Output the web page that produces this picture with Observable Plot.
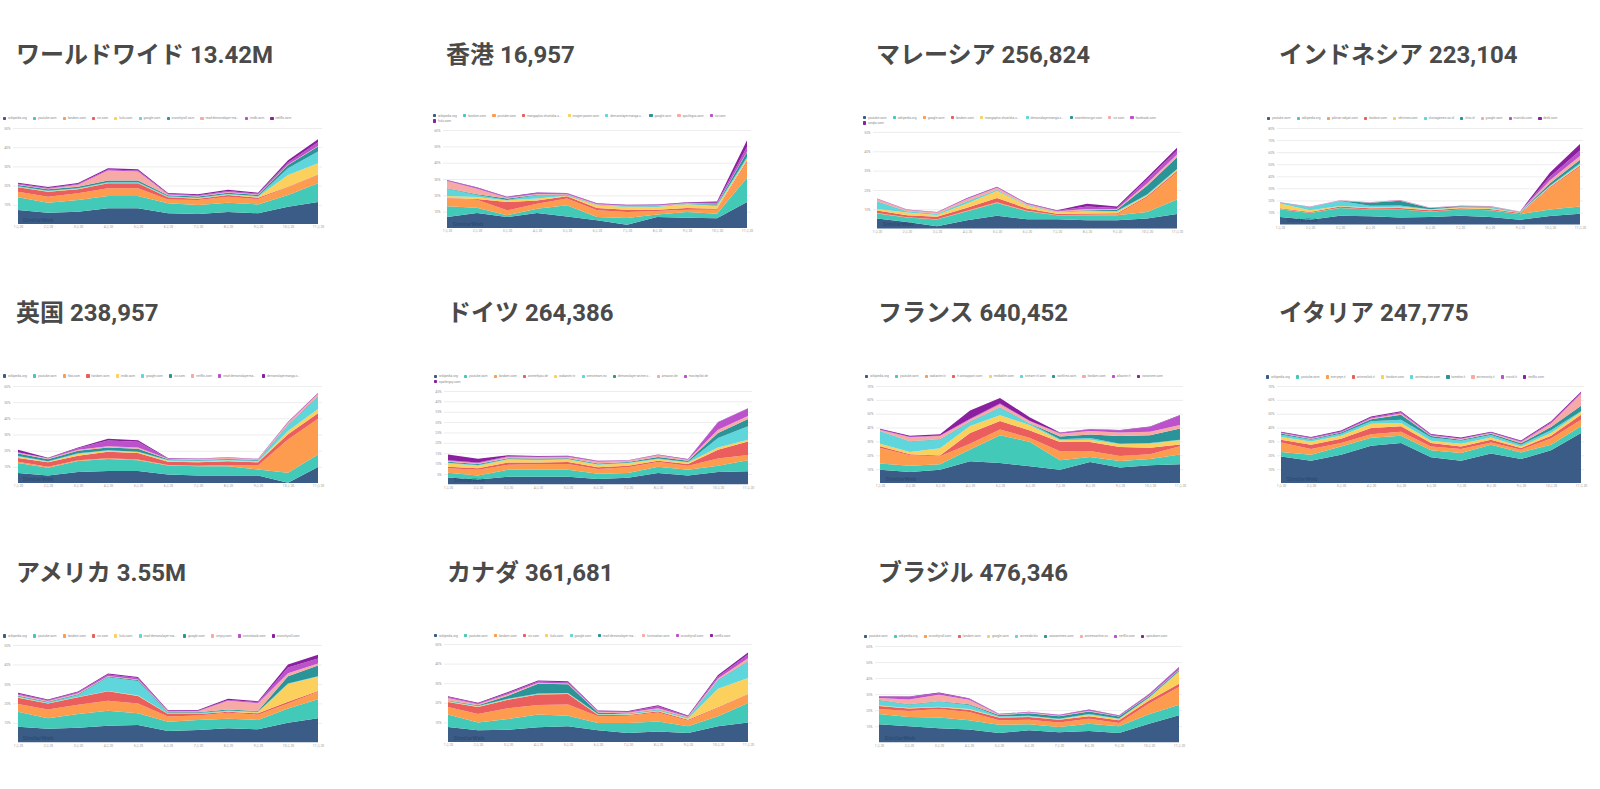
<!DOCTYPE html>
<html><head><meta charset="utf-8">
<script src="https://cdn.jsdelivr.net/npm/d3@7"></script>
<script src="https://cdn.jsdelivr.net/npm/@observablehq/plot@0.6"></script>
<style>
body{margin:0;background:#fff;width:1600px;height:789px;position:relative;overflow:hidden;font-family:Roboto,"Noto Sans CJK JP",sans-serif;}
.title{position:absolute;font-size:24px;font-weight:700;color:#4a4a4a;white-space:nowrap;line-height:1;font-family:Roboto,"Noto Sans CJK JP",sans-serif;}
.legend{position:absolute;font-size:3.2px;color:#8a8a8a;font-family:Roboto,sans-serif;}
.lrow{display:flex;white-space:nowrap;height:5.3px;align-items:center;}
.item{display:flex;align-items:center;margin-right:6.2px;}
.sw{width:3.2px;height:3.2px;border-radius:0.7px;margin-right:1.8px;flex:none;}
svg.panel{position:absolute;overflow:visible;}
</style></head><body>
<script>
// ---------- data ----------
const months = ["1月 20","2月 20","3月 20","4月 20","5月 20","6月 20","7月 20","8月 20","9月 20","10月 20","11月 20"];
const palette = ["#3a5c87","#43c9b8","#fd9b4e","#eb5e5e","#fbd05c","#5ed6dc","#2b9499","#f7aaa5","#bb52cc","#8c1fa0"];
const regionNames = ["ワールドワイド","香港","マレーシア","インドネシア","英国","ドイツ","フランス","イタリア","アメリカ","カナダ","ブラジル"];
const regionTotals = ["13.42M","16,957","256,824","223,104","238,957","264,386","640,452","247,775","3.55M","361,681","476,346"];

const wwSites = ["wikipedia.org","youtube.com","fandom.com","viz.com","hulu.com","google.com","crunchyroll.com","read-demonslayer-ma...","imdb.com","netflix.com"];
const wwValues = [
  [7.3,5.9,6.4,8.2,8.2,5.6,5.2,6.3,5.6,9.0,11.5],
  [6.6,5.2,6.1,6.4,6.4,5.2,4.7,4.8,4.6,6.1,9.7],
  [2.9,3.1,3.5,4.0,4.0,2.0,2.6,3.1,2.8,4.0,4.3],
  [2.3,2.6,2.1,2.6,2.6,1.1,0.7,0.9,0.7,0.3,0.3],
  [0.2,0.2,0.2,0.2,0.2,0.2,0.2,0.2,0.5,6.1,5.8],
  [0.3,0.3,0.3,0.4,0.4,0.3,0.3,0.3,0.3,3.5,6.1],
  [0.7,0.8,0.8,0.8,0.8,0.6,0.6,0.7,0.6,1.7,2.6],
  [0.3,0.3,1.0,5.3,4.8,0.3,0.3,0.4,0.3,0.3,0.3],
  [0.4,0.4,0.4,0.5,0.5,0.4,0.4,0.5,0.4,1.0,2.0],
  [0.5,0.5,0.5,0.6,0.6,0.5,0.5,0.6,0.5,1.2,1.5]
];

const hkSites = ["wikipedia.org","fandom.com","youtube.com","mangaplus.shueisha.c...","mugen-power.com","demonslayermanga.c...","google.com","spotlegus.com","viz.com","hulu.com"];
const hkValues = [
  [6.7,9.2,6.7,9.2,7.1,4.7,2.0,6.7,6.3,5.9,15.9],
  [6.6,3.2,1.1,2.6,6.8,2.0,4.1,1.5,3.5,2.9,14.9],
  [4.7,4.9,3.0,3.1,4.1,4.1,3.7,2.2,1.4,2.4,9.6],
  [0.4,0.5,5.1,2.0,1.4,1.4,1.4,0.8,1.0,0.6,1.0],
  [1.2,1.2,1.0,1.1,0.4,1.7,1.7,1.7,2.3,1.5,1.0],
  [4.5,1.2,0.3,2.0,0.3,0.2,0.2,0.4,0.2,0.8,1.1],
  [0.3,0.4,0.8,0.4,0.3,0.2,0.2,0.2,0.2,0.4,3.0],
  [4.3,3.5,0.5,0.4,0.3,0.3,0.3,0.3,0.3,0.3,0.3],
  [0.4,0.5,0.4,0.5,0.5,0.3,0.3,0.3,0.3,0.6,3.0],
  [0.3,0.3,0.3,0.4,0.3,0.3,0.3,0.3,0.3,0.8,4.0]
];

const mySites = ["youtube.com","wikipedia.org","google.com","fandom.com","mangaplus.shueisha.c...","demonslayermanga.c...","searchencrypt.com","viz.com","facebook.com","uniqlo.com"];
const myValues = [
  [5.2,3.4,1.2,4.3,6.6,4.8,4.8,4.3,4.3,5.2,7.5],
  [2.6,2.3,3.5,4.7,6.7,4.2,2.1,2.6,2.6,3.4,7.5],
  [0.3,0.2,0.2,0.3,0.3,0.2,0.2,0.3,0.5,7.5,14.0],
  [1.3,1.0,1.2,1.5,2.2,1.2,0.6,0.6,0.6,0.6,0.8],
  [0.8,1.4,1.0,2.2,3.7,1.4,0.7,1.0,0.7,0.6,0.6],
  [3.8,0.6,0.5,1.0,0.5,0.3,0.2,0.4,0.4,0.4,0.5],
  [0.1,0.1,0.1,0.1,0.1,0.1,0.1,0.3,0.6,4.5,6.0],
  [1.2,0.6,0.6,1.2,1.0,0.5,0.3,0.6,0.4,1.2,1.5],
  [0.2,0.2,0.2,0.3,0.3,0.3,0.3,1.3,0.5,2.0,2.0],
  [0.1,0.1,0.1,0.2,0.2,0.2,0.2,1.5,0.8,1.0,1.5]
];

const idSites = ["youtube.com","wikipedia.org","pikiran-rakyat.com","fandom.com","idntimes.com","duniagames.co.id","tirto.id","google.com","mainidu.com","detik.com"];
const idValues = [
  [6.3,4.1,7.4,6.9,5.8,6.3,7.4,6.3,4.1,7.2,9.0],
  [6.4,5.5,6.4,5.5,6.6,4.4,5.0,5.5,4.5,5.2,6.0],
  [0.2,0.2,0.2,0.2,0.2,0.2,0.2,0.2,0.2,18.0,33.0],
  [0.6,0.6,1.0,1.0,1.2,1.0,1.0,1.0,0.7,0.8,1.0],
  [4.0,1.5,0.5,0.5,1.0,0.5,0.5,0.5,0.3,0.5,0.8],
  [0.5,2.5,4.0,1.5,1.0,0.3,0.5,0.8,0.3,0.5,1.0],
  [0.2,0.2,0.2,2.5,4.0,1.0,0.5,0.5,0.3,2.0,3.0],
  [0.2,0.2,0.3,0.3,0.3,0.3,0.3,0.3,0.3,2.5,3.0],
  [0.1,0.1,0.1,0.1,0.1,0.1,0.1,0.1,0.1,3.0,4.5],
  [0.1,0.1,0.1,0.1,0.1,0.1,0.1,0.1,0.1,3.5,5.5]
];

const ukSites = ["wikipedia.org","youtube.com","hbo.com","fandom.com","imdb.com","google.com","viz.com","netflix.com","read-demonslayerma...","demonslayermanga.c..."];
const ukValues = [
  [6.2,4.7,6.8,7.4,7.4,5.3,4.7,4.7,4.7,0.2,9.9],
  [6.1,4.8,6.8,7.4,6.6,5.6,5.6,5.6,3.7,6.2,7.8],
  [0.8,0.5,0.5,0.5,0.5,0.3,0.3,0.8,2.4,20.5,22.0],
  [2.3,2.8,2.8,4.0,4.0,2.0,2.3,2.3,2.0,3.3,3.5],
  [0.8,0.4,1.0,0.6,0.6,0.5,0.5,0.5,0.5,2.0,2.5],
  [0.5,0.3,0.5,0.3,0.3,0.5,0.5,0.5,0.5,3.5,7.5],
  [1.5,1.2,1.5,1.8,1.8,0.5,0.4,0.4,0.4,0.4,0.4],
  [0.5,0.4,0.6,0.8,0.8,0.3,0.5,0.8,0.5,1.2,1.5],
  [0.3,0.2,1.0,3.5,3.5,0.2,0.2,0.2,0.2,0.5,0.3],
  [1.5,0.3,0.5,1.0,1.0,0.2,0.1,0.1,0.1,0.1,0.2]
];

const deSites = ["wikipedia.org","youtube.com","fandom.com","animefiyou.de","wakanim.tv","wenstream.eu","demonslayer-anime.c...","amazon.de","moviepilot.de","spoilerguy.com"];
const deValues = [
  [3.3,2.3,3.6,3.7,3.6,2.6,3.1,5.4,4.3,5.9,6.3],
  [2.3,2.0,3.4,3.3,3.4,2.5,2.3,3.1,2.7,3.1,5.3],
  [2.2,2.7,2.4,2.8,2.8,2.3,2.8,2.3,2.0,3.5,2.5],
  [0.7,0.7,1.1,0.7,1.0,0.8,0.8,0.5,0.8,4.2,6.5],
  [1.6,1.3,1.4,1.1,1.1,1.2,1.1,0.8,0.7,1.1,0.9],
  [0.3,0.3,0.3,0.3,0.3,0.3,0.3,0.3,0.3,4.5,6.5],
  [0.5,0.5,0.4,0.5,0.4,0.3,0.3,0.8,0.5,2.5,3.5],
  [0.4,0.4,0.6,0.6,0.6,0.9,0.6,0.8,0.5,1.5,1.5],
  [0.3,0.3,0.3,0.3,0.3,0.3,0.2,0.2,0.2,3.5,3.5],
  [2.8,1.8,0.5,0.3,0.3,0.2,0.1,0.2,0.2,0.2,0.2]
];

const frSites = ["wikipedia.org","youtube.com","wakanim.tv","fr.anisupport.com","mediafire.com","stream-vf.com","voirfilms.com","fandom.com","allocine.fr","voiranime.com"];
const frValues = [
  [9.6,8.0,9.6,15.7,14.5,12.0,9.6,15.2,11.1,12.8,13.5],
  [4.4,4.5,3.9,8.4,20.0,17.6,6.8,3.6,4.8,4.5,7.0],
  [11.3,7.5,5.8,4.3,4.1,2.9,6.5,4.3,3.6,3.4,6.0],
  [1.2,0.7,0.5,7.7,6.2,5.3,6.7,6.5,6.5,4.8,1.2],
  [1.9,1.7,5.3,5.1,4.1,3.9,1.2,1.7,2.0,2.9,3.1],
  [8.9,7.5,6.2,2.9,5.3,1.0,0.8,1.2,0.4,0.5,0.5],
  [0.2,0.2,0.2,0.2,0.2,0.3,2.0,2.5,5.5,5.5,8.0],
  [0.8,3.0,2.5,1.5,2.5,1.5,2.0,2.5,2.5,2.5,2.5],
  [0.3,0.3,0.3,0.5,0.5,0.3,0.5,1.2,1.5,3.5,7.0],
  [0.5,0.7,0.8,6.0,4.0,2.5,0.3,0.3,0.3,0.3,0.3]
];

const itSites = ["wikipedia.org","youtube.com","everyeye.it","animeclick.it","fandom.com","animesaturn.com","tomshw.it","animeunity.it","vvvvid.it","netflix.com"];
const itValues = [
  [19.2,16.1,20.4,26.9,28.8,18.5,16.1,21.2,17.3,23.6,36.1],
  [3.2,4.3,6.0,5.8,5.3,5.1,5.5,6.4,4.8,4.0,4.8],
  [6.9,4.1,2.4,2.4,2.9,2.8,2.9,1.7,1.9,4.6,4.8],
  [2.0,3.1,3.2,4.6,3.9,2.4,1.9,2.0,1.2,1.9,3.6],
  [1.9,2.4,2.1,3.1,2.4,1.7,2.0,1.6,1.2,2.0,1.9],
  [1.7,1.3,1.5,1.7,2.4,2.4,2.1,1.7,1.2,1.9,0.5],
  [0.8,0.5,0.8,1.5,3.5,1.0,0.8,1.0,1.0,2.5,4.0],
  [0.3,0.3,0.3,0.5,1.0,0.4,0.4,0.4,1.0,2.5,8.5],
  [0.5,0.5,0.5,0.8,0.8,0.5,0.5,0.5,0.5,0.8,0.8],
  [0.5,0.6,0.6,0.7,0.7,0.5,0.6,0.5,0.6,0.7,0.8]
];

const usSites = ["wikipedia.org","youtube.com","fandom.com","viz.com","hulu.com","read-demonslayer-ma...","google.com","umjoy.com","comicbook.com","crunchyroll.com"];
const usValues = [
  [8.0,7.0,7.5,8.5,8.9,5.8,6.3,7.2,6.7,10.1,12.3],
  [7.7,5.3,7.0,7.7,6.0,4.8,5.2,4.9,4.8,7.3,9.8],
  [4.0,4.6,4.8,5.2,5.1,2.6,2.3,3.1,2.7,2.6,3.9],
  [3.2,3.0,3.8,4.8,3.8,1.3,0.7,0.5,0.7,0.9,0.3],
  [0.2,0.2,0.2,0.2,0.2,0.2,0.2,0.3,0.5,9.0,7.4],
  [0.4,0.4,1.0,7.0,7.5,0.4,0.3,0.3,0.3,0.3,0.3],
  [0.4,0.4,0.4,0.4,0.5,0.4,0.4,0.5,0.4,3.8,5.5],
  [0.5,0.3,0.5,0.3,0.3,0.3,0.5,4.5,4.0,1.5,1.0],
  [0.5,0.4,0.5,0.8,0.8,0.3,0.3,0.5,0.5,3.0,2.5],
  [0.5,0.4,0.4,0.5,0.5,0.4,0.4,0.6,0.5,1.5,2.0]
];

const caSites = ["wikipedia.org","youtube.com","fandom.com","viz.com","hulu.com","google.com","read-demonslayer-ma...","funimation.com","crunchyroll.com","netflix.com"];
const caValues = [
  [7.7,6.0,6.3,7.5,8.0,6.0,4.6,5.4,4.6,8.0,10.0],
  [6.3,4.0,5.4,6.5,5.4,3.7,5.1,5.0,3.4,5.1,9.9],
  [3.9,4.3,5.5,4.9,5.7,3.4,3.7,4.7,2.9,4.3,4.3],
  [2.5,3.6,4.4,5.3,5.4,0.7,0.4,0.6,0.5,0.3,0.3],
  [0.2,0.2,0.2,0.2,0.2,0.2,0.2,0.3,0.5,9.5,8.2],
  [0.3,0.3,0.3,0.3,0.3,0.3,0.3,0.3,0.3,4.3,8.2],
  [0.3,0.4,1.5,5.0,4.5,0.8,0.3,0.3,0.3,0.3,0.3],
  [1.3,0.5,0.7,0.5,0.4,0.3,0.4,0.6,0.4,0.6,1.5],
  [0.4,0.4,0.7,0.7,0.6,0.4,0.4,1.0,0.3,1.0,2.0],
  [0.5,0.3,0.5,0.5,0.5,0.3,0.4,0.5,0.3,0.8,1.0]
];

const brSites = ["youtube.com","wikipedia.org","crunchyroll.com","fandom.com","google.com","animesbr.biz","sosoanimes.com","animesonline.cc","netflix.com","uptodown.com"];
const brValues = [
  [11.2,10.0,8.7,7.9,5.8,7.5,6.2,7.1,5.8,11.6,16.8],
  [6.4,5.8,6.7,5.8,5.2,3.7,3.3,4.5,4.2,5.8,6.6],
  [3.1,3.7,5.3,5.2,2.7,2.9,2.9,3.1,2.0,6.7,11.0],
  [1.9,1.5,1.1,1.4,1.7,1.7,1.7,1.5,1.7,2.0,2.1],
  [0.4,0.4,0.4,0.4,0.3,0.3,0.3,1.0,0.8,1.5,7.5],
  [3.0,2.0,3.0,2.5,0.5,0.5,0.3,0.5,0.3,0.3,0.3],
  [0.4,0.3,0.4,0.5,0.8,1.5,1.5,1.5,1.2,0.8,0.8],
  [1.2,3.0,4.0,2.8,0.3,0.4,0.4,0.5,0.3,0.3,0.3],
  [0.8,1.5,1.0,0.6,0.3,0.3,0.4,0.5,0.4,0.8,1.2],
  [0.3,0.3,0.5,0.3,0.2,0.2,0.2,0.2,0.2,0.3,0.3]
];

// ---------- layout (positions only) ----------
const panelData = [
  [wwSites, wwValues],[hkSites, hkValues],[mySites, myValues],[idSites, idValues],
  [ukSites, ukValues],[deSites, deValues],[frSites, frValues],[itSites, itValues],
  [usSites, usValues],[caSites, caValues],[brSites, brValues]
];
const layout = [
  {pl:13,  pr:322,  pt:128,   pb:224,   yMax:50, step:10, lx:3,    ly:118.3, brk:10, tx:16,   tb:63},
  {pl:443, pr:751,  pt:130,   pb:228,   yMax:60, step:10, lx:433,  ly:115.7, brk:9,  tx:446,  tb:63},
  {pl:873, pr:1181, pt:131.7, pb:228.3, yMax:50, step:10, lx:863,  ly:117.7, brk:9,  tx:876,  tb:63},
  {pl:1277,pr:1583, pt:127.7, pb:224.3, yMax:80, step:10, lx:1267, ly:118.3, brk:10, tx:1279, tb:63},
  {pl:13,  pr:322,  pt:385.7, pb:482.7, yMax:60, step:10, lx:3,    ly:376,   brk:10, tx:16,   tb:320.7},
  {pl:444, pr:752,  pt:391,   pb:484.3, yMax:45, step:5,  lx:434,  ly:376.3, brk:9,  tx:447,  tb:320.7},
  {pl:876, pr:1183, pt:385.7, pb:482.7, yMax:70, step:10, lx:865,  ly:376.3, brk:10, tx:878,  tb:320.7},
  {pl:1277,pr:1584, pt:386.3, pb:483.3, yMax:70, step:10, lx:1266, ly:377,   brk:10, tx:1279, tb:320.7},
  {pl:13,  pr:322,  pt:645,   pb:742.3, yMax:50, step:10, lx:3,    ly:636,   brk:10, tx:16,   tb:580.7},
  {pl:444, pr:752,  pt:644.3, pb:742.3, yMax:50, step:10, lx:434,  ly:635.7, brk:10, tx:447,  tb:580.7},
  {pl:875, pr:1182, pt:645.7, pb:742,   yMax:60, step:10, lx:864,  ly:636.3, brk:10, tx:878,  tb:580.7}
];

const ML = 16, MR = 4, MT = 3, MB = 8;

panelData.forEach(([sites, values], i) => {
  const L = layout[i];
  // title
  const t = document.createElement("div");
  t.className = "title";
  t.textContent = regionNames[i] + " " + regionTotals[i];
  t.style.left = L.tx + "px";
  t.style.top = (L.tb - 20) + "px";
  document.body.appendChild(t);

  const rows = [];
  sites.forEach((s, k) => values[k].forEach((v, j) => rows.push({site: s, month: months[j], value: v})));
  const ticks = d3.range(L.step, L.yMax + 0.001, L.step);

  const chart = Plot.plot({
    width: (L.pr - L.pl) + ML + MR,
    height: (L.pb - L.pt) + MT + MB,
    marginLeft: ML, marginRight: MR, marginTop: MT, marginBottom: MB,
    x: {type: "point", domain: months, padding: 0, axis: null, label: null},
    y: {domain: [0, L.yMax], axis: null, label: null},
    color: {domain: sites, range: palette},
    style: {fontFamily: "Roboto, sans-serif", background: "transparent", overflow: "visible"},
    marks: [
      Plot.gridY(ticks, {stroke: "#e9e9e9", strokeOpacity: 1, strokeWidth: 0.8}),
      Plot.areaY(rows, {x: "month", y: "value", fill: "site", order: null}),
      Plot.axisY(ticks, {tickSize: 0, tickPadding: 3, fontSize: 3.4, fill: "#9a9a9a", label: null, tickFormat: d => d + "%"}),
      Plot.axisX(months, {tickSize: 0, tickPadding: 1.5, fontSize: 3.4, fill: "#9a9a9a", label: null}),
      Plot.text(["SimilarWeb"], {frameAnchor: "bottom-left", dx: 9, dy: -3, fontSize: 6, fontWeight: 700, fill: "#1f3a5a", fillOpacity: 0.45})
    ]
  });
  chart.classList.add("panel");
  chart.style.left = (L.pl - ML) + "px";
  chart.style.top = (L.pt - MT) + "px";
  document.body.appendChild(chart);

  // legend
  const color = chart.scale("color");
  const lg = document.createElement("div");
  lg.className = "legend";
  lg.style.left = L.lx + "px";
  lg.style.top = (L.ly - 2.65) + "px";
  const groups = [sites.slice(0, L.brk), sites.slice(L.brk)].filter(g => g.length);
  groups.forEach(g => {
    const r = document.createElement("div");
    r.className = "lrow";
    g.forEach(s => {
      const it = document.createElement("div");
      it.className = "item";
      const sw = document.createElement("span");
      sw.className = "sw";
      sw.style.background = color.apply(s);
      const tx = document.createElement("span");
      tx.textContent = s;
      it.appendChild(sw); it.appendChild(tx);
      r.appendChild(it);
    });
    lg.appendChild(r);
  });
  document.body.appendChild(lg);
});
</script>
</body></html>
